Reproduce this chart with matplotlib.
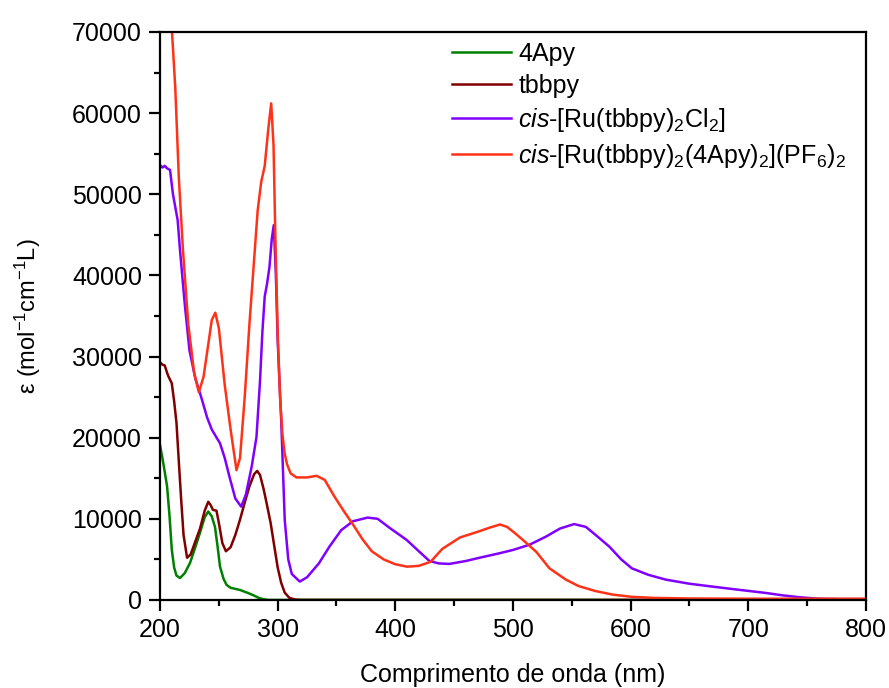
import matplotlib
matplotlib.use("Agg")
import matplotlib.pyplot as plt
from matplotlib.ticker import MultipleLocator

plt.rcParams['font.family'] = ['Liberation Sans', 'DejaVu Sans']
plt.rcParams['mathtext.fontset'] = 'custom'
plt.rcParams['mathtext.rm'] = 'Liberation Sans'
plt.rcParams['mathtext.it'] = 'Liberation Sans:italic'
plt.rcParams['mathtext.default'] = 'regular'

# ---- data ----
apy_x = [200, 202, 204, 206, 208, 210, 212, 214, 217, 221, 225.5, 230, 234, 238, 241, 244, 246.7,
         249, 251, 254, 256.6, 260, 268, 274, 279, 284, 287.5, 292, 300, 800]
apy_y = [19100, 17500, 15800, 14000, 10500, 6200, 4000, 3000, 2700, 3300, 4560, 6500, 8300, 10200,
         10900, 10300, 9000, 6500, 4100, 2600, 1850, 1500, 1230, 900, 600, 250, 100, 0, 0, 0]

tbb_x = [200, 202, 204, 206, 207, 210, 212, 214, 216, 218, 220, 223, 226, 230, 234, 238, 241, 243,
         245, 248, 250, 253, 256, 260, 264, 268, 272, 276, 280, 282.6, 285, 288, 290.5, 294, 297.6,
         300, 303, 306, 310, 315, 320, 800]
tbb_y = [29300, 29000, 28900, 28000, 27600, 26700, 24500, 21800, 17000, 12300, 8000, 5200, 5600,
         7200, 8800, 11000, 12100, 11700, 11100, 11000, 9500, 7000, 6000, 6500, 8000, 9900, 12000,
         14000, 15500, 15900, 15400, 13700, 12000, 9500, 6200, 4000, 2100, 900, 250, 50, 0, 0]

rucl_x = [200, 202, 204, 206, 208.5, 211, 215, 217, 221, 225, 230, 235, 240, 244, 251, 255, 259,
          264, 269, 273, 278, 282, 285, 287, 289, 291, 293, 295, 296.7, 298.5, 300, 303, 306, 309,
          312, 318.8, 325, 335, 344, 354, 364, 376.5, 385, 395, 409.6, 420, 429, 437, 446, 460,
          471.6, 488.5, 500, 514, 528, 540, 552, 562, 572, 582, 592, 601, 615, 630, 650, 672, 695,
          715, 730, 746, 760, 780, 800]
rucl_y = [53600, 53300, 53500, 53200, 53000, 50000, 46800, 43100, 36500, 30800, 27300, 25000,
          22500, 21000, 19300, 17500, 15200, 12500, 11500, 13000, 16500, 20100, 27000, 33000,
          37400, 39000, 41000, 44500, 46200, 40000, 32000, 22200, 9860, 5000, 3200, 2260, 2800,
          4500, 6570, 8600, 9700, 10150, 10000, 8900, 7400, 6000, 4800, 4500, 4440, 4800, 5200,
          5750, 6160, 6800, 7800, 8800, 9350, 9000, 7800, 6560, 5000, 3900, 3100, 2500, 2000,
          1600, 1200, 860, 550, 300, 150, 100, 100]

ruapy_x = [210, 213, 216, 219.5, 224, 229, 233, 237, 241, 244, 247, 250, 255, 260, 265, 268, 272,
           276, 280, 283, 286, 289, 292, 294.5, 296.5, 298, 300, 302, 304, 306, 308, 311, 316, 325,
           333, 340, 348, 356, 364, 372, 380, 390, 400, 410, 420, 430, 440, 455, 470, 480, 489,
           495, 502, 510, 520, 531, 545, 556, 570, 585, 601, 620, 650, 700, 800]
ruapy_y = [70500, 63000, 52000, 43100, 34000, 28000, 25600, 27500, 31500, 34500, 35400, 33500,
           26500, 21000, 16000, 17500, 25000, 34000, 42000, 48000, 51500, 53500, 58000, 61200,
           56000, 45000, 33000, 25000, 20500, 18000, 16700, 15600, 15100, 15100, 15300, 14800,
           12800, 11000, 9300, 7500, 6000, 5000, 4400, 4100, 4200, 4700, 6300, 7700, 8400, 8900,
           9300, 9000, 8200, 7200, 5900, 3900, 2500, 1700, 1100, 650, 380, 250, 180, 150, 150]

labels = ['4Apy', 'tbbpy', r'$\mathit{cis}$-[Ru(tbbpy)$_2$Cl$_2$]',
          r'$\mathit{cis}$-[Ru(tbbpy)$_2$(4Apy)$_2$](PF$_6$)$_2$']
colors = ['#008000', '#800000', '#8000FF', '#FF3218']

fig = plt.figure(figsize=(8.89, 6.88), dpi=100)
ax = fig.add_axes([0.18, 0.128, 0.794, 0.8255])

for xs, ys, lab, c in zip([apy_x, tbb_x, rucl_x, ruapy_x], [apy_y, tbb_y, rucl_y, ruapy_y],
                          labels, colors):
    ax.plot(xs, ys, color=c, lw=1.8, label=lab)

ax.set_xlim(200, 800)
ax.set_ylim(0, 70000)
ax.xaxis.set_major_locator(MultipleLocator(100))
ax.xaxis.set_minor_locator(MultipleLocator(50))
ax.yaxis.set_major_locator(MultipleLocator(10000))
ax.yaxis.set_minor_locator(MultipleLocator(5000))
ax.tick_params(which='major', direction='out', length=8, width=1.6, labelsize=18, pad=5)
ax.tick_params(which='minor', direction='out', length=4.5, width=1.6)
for s in ax.spines.values():
    s.set_linewidth(1.6)

ax.set_xlabel('Comprimento de onda (nm)', fontsize=18, labelpad=15)
ax.set_ylabel(r'ε (mol$^{-1}$cm$^{-1}$L)', fontsize=17, labelpad=21)

ax.legend(loc='upper left', bbox_to_anchor=(0.4136, 0.983), frameon=False, fontsize=18,
          handlelength=2.35, handletextpad=0.3, labelspacing=0.32, borderpad=0,
          borderaxespad=0)

fig.savefig('out.png', dpi=100)
